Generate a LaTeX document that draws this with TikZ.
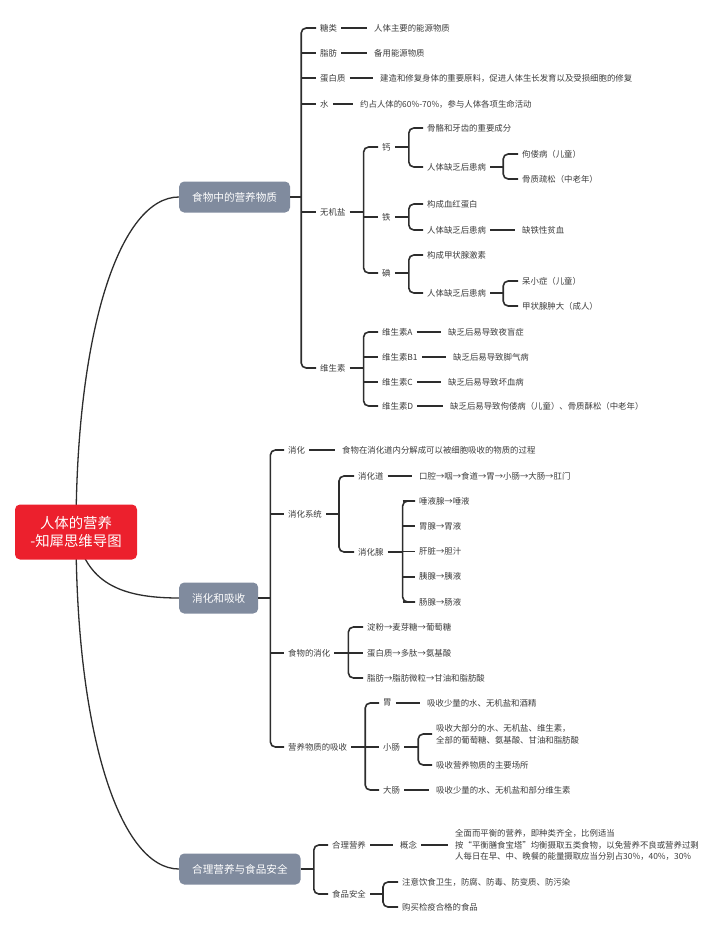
\documentclass[tikz,border=0pt]{standalone}
\usepackage{fontspec}
\newfontfamily\cjk{Noto Sans CJK SC}
\usetikzlibrary{backgrounds}
\definecolor{rootred}{RGB}{236,32,45}
\definecolor{topicgray}{RGB}{128,139,158}
\definecolor{ink}{RGB}{45,45,45}
\definecolor{txt}{RGB}{60,60,60}

\begin{document}
\begin{tikzpicture}[x=1pt,y=-1pt,
 leaf/.style={anchor=west,inner xsep=4pt,inner ysep=1pt,text=txt,
  font=\cjk\fontsize{8.4}{12}\selectfont},
 topic/.style={anchor=west,rounded corners=5pt,fill=topicgray,text=white,
  inner xsep=13pt,minimum height=31pt,font=\cjk\fontsize{10.6}{13}\selectfont},
 link/.style={draw=ink,line width=1.6pt},
 pair/.style={link,shorten >=3pt},
 spine/.style={link,rounded corners=5pt},
 rootline/.style={draw=ink,line width=1.3pt}]
\useasboundingbox (0,0) rectangle (720,931);

% root and main topics
\node[fill=rootred,rounded corners=5pt,text=white,align=center,
 minimum width=122pt,minimum height=55pt,
 font=\cjk\fontsize{14.4}{18}\selectfont] (root) at (76,532) {人体的营养\\-知犀思维导图};
\node[topic] (food) at (179,197) {食物中的营养物质};
\node[topic] (dig) at (179,598) {消化和吸收};
\node[topic] (safe) at (179,869) {合理营养与食品安全};
\begin{scope}[on background layer]
 \draw[rootline] (root.center) .. controls +(0,-202) and +(-59,0) .. (food.west);
 \draw[rootline] (root.center) .. controls +(10,50) and +(-60,0) .. (dig.west);
 \draw[rootline] (root.center) .. controls +(0,202) and +(-59,0) .. (safe.west);
\end{scope}

% food: nutrients
\path (food.east) ++(11,0) coordinate (fs);
\node[leaf] (sugar) at (316,28) {糖类};
\node[leaf] (fat) at (316,53) {脂肪};
\node[leaf] (prot) at (316,78) {蛋白质};
\node[leaf] (water) at (316,104) {水};
\node[leaf] (salt) at (316,212) {无机盐};
\node[leaf] (vit) at (316,368) {维生素};
\draw[link] (food.east) -- (fs);
\draw[spine] (sugar.west) -| (fs) |- (vit.west);
\foreach \n in {fat,prot,water,salt} \draw[link] (fs |- \n.west) -- (\n.west);

\node[leaf] (sugar1) at (370,28) {人体主要的能源物质};
\node[leaf] (fat1) at (370,53) {备用能源物质};
\node[leaf] (prot1) at (376,78) {建造和修复身体的重要原料，促进人体生长发育以及受损细胞的修复};
\node[leaf] (water1) at (356,104) {约占人体的60\%-70\%，参与人体各项生命活动};
\foreach \n in {sugar,fat,prot,water} \draw[pair] (\n) -- (\n1);

% minerals
\path (salt.east) ++(14,0) coordinate (ss);
\node[leaf] (ca) at (378,147) {钙};
\node[leaf] (fe) at (378,217) {铁};
\node[leaf] (io) at (378,273) {碘};
\draw[link] (salt.east) -- (ss);
\draw[spine] (ca.west) -| (ss) |- (io.west);
\draw[link] (ss |- fe.west) -- (fe.west);

\path (ca.east) ++(14,0) coordinate (cas);
\node[leaf] (ca1) at (423,128) {骨骼和牙齿的重要成分};
\node[leaf] (ca2) at (423,167) {人体缺乏后患病};
\draw[link] (ca.east) -- (cas);
\draw[spine] (ca1.west) -| (cas) |- (ca2.west);
\path (ca2.east) ++(13,0) coordinate (ca2s);
\node[leaf] (ca21) at (518,154) {佝偻病（儿童）};
\node[leaf] (ca22) at (518,179) {骨质疏松（中老年）};
\draw[link] (ca2.east) -- (ca2s);
\draw[spine] (ca21.west) -| (ca2s) |- (ca22.west);

\path (fe.east) ++(14,0) coordinate (fes);
\node[leaf] (fe1) at (423,204) {构成血红蛋白};
\node[leaf] (fe2) at (423,230) {人体缺乏后患病};
\node[leaf] (fe21) at (518,230) {缺铁性贫血};
\draw[link] (fe.east) -- (fes);
\draw[spine] (fe1.west) -| (fes) |- (fe2.west);
\draw[pair] (fe2) -- (fe21);

\path (io.east) ++(14,0) coordinate (ios);
\node[leaf] (io1) at (423,255) {构成甲状腺激素};
\node[leaf] (io2) at (423,293) {人体缺乏后患病};
\draw[link] (io.east) -- (ios);
\draw[spine] (io1.west) -| (ios) |- (io2.west);
\path (io2.east) ++(13,0) coordinate (io2s);
\node[leaf] (io21) at (518,281) {呆小症（儿童）};
\node[leaf] (io22) at (518,306) {甲状腺肿大（成人）};
\draw[link] (io2.east) -- (io2s);
\draw[spine] (io21.west) -| (io2s) |- (io22.west);

% vitamins
\path (vit.east) ++(14,0) coordinate (vs);
\node[leaf] (va) at (378,332) {维生素A};
\node[leaf] (vb) at (378,357) {维生素B1};
\node[leaf] (vc) at (378,382) {维生素C};
\node[leaf] (vd) at (378,406) {维生素D};
\draw[link] (vit.east) -- (vs);
\draw[spine] (va.west) -| (vs) |- (vd.west);
\foreach \n in {vb,vc} \draw[link] (vs |- \n.west) -- (\n.west);
\node[leaf] (va1) at (444,332) {缺乏后易导致夜盲症};
\node[leaf] (vb1) at (449,357) {缺乏后易导致脚气病};
\node[leaf] (vc1) at (444,382) {缺乏后易导致坏血病};
\node[leaf] (vd1) at (446,406) {缺乏后易导致佝偻病（儿童）、骨质酥松（中老年）};
\foreach \n in {va,vb,vc,vd} \draw[pair] (\n) -- (\n1);

% digestion and absorption
\path (dig.east) ++(12,0) coordinate (ds);
\node[leaf] (dg) at (284,450) {消化};
\node[leaf] (sys) at (284,514) {消化系统};
\node[leaf] (fd) at (284,653) {食物的消化};
\node[leaf] (ab) at (284,747) {营养物质的吸收};
\draw[link] (dig.east) -- (ds);
\draw[spine] (dg.west) -| (ds) |- (ab.west);
\foreach \n in {sys,fd} \draw[link] (ds |- \n.west) -- (\n.west);
\node[leaf] (dg1) at (338,450) {食物在消化道内分解成可以被细胞吸收的物质的过程};
\draw[pair] (dg) -- (dg1);

\path (sys.east) ++(13,0) coordinate (syss);
\node[leaf] (tract) at (354,476) {消化道};
\node[leaf] (gland) at (354,552) {消化腺};
\draw[link] (sys.east) -- (syss);
\draw[spine] (tract.west) -| (syss) |- (gland.west);
\node[leaf] (tract1) at (415,476) {口腔→咽→食道→胃→小肠→大肠→肛门};
\draw[pair] (tract) -- (tract1);

\path (gland.east) ++(15,0) coordinate (gs);
\foreach \t [count=\i] in {唾液腺→唾液,胃腺→胃液,肝脏→胆汁,胰腺→胰液,肠腺→肠液}
 {\node[leaf] (gl\i) at (415,{501+25.25*(\i-1)}) {\t};
  \draw[link] (gs |- gl\i.west) -- (gl\i.west);}
\draw[link] (gland.east) -- (gs);
\draw[spine] (gl1.west) -| (gs) |- (gl5.west);

\path (fd.east) ++(14,0) coordinate (fds);
\node[leaf] (fd1) at (363,627) {淀粉→麦芽糖→葡萄糖};
\node[leaf] (fd2) at (363,653) {蛋白质→多肽→氨基酸};
\node[leaf] (fd3) at (363,678) {脂肪→脂肪微粒→甘油和脂肪酸};
\draw[link] (fd.east) -- (fd2.west);
\draw[spine] (fd1.west) -| (fds) |- (fd3.west);

\path (ab.east) ++(14,0) coordinate (abs);
\node[leaf] (st) at (379,703) {胃};
\node[leaf] (si) at (379,747) {小肠};
\node[leaf] (li) at (379,790) {大肠};
\draw[link] (ab.east) -- (si.west);
\draw[spine] (st.west) -| (abs) |- (li.west);
\node[leaf] (st1) at (423,703) {吸收少量的水、无机盐和酒精};
\node[leaf] (li1) at (432,790) {吸收少量的水、无机盐和部分维生素};
\draw[pair] (st) -- (st1);
\draw[pair] (li) -- (li1);
\path (si.east) ++(14,0) coordinate (sis);
\node[leaf,align=left] (si1) at (432,734) {吸收大部分的水、无机盐、维生素，\\全部的葡萄糖、氨基酸、甘油和脂肪酸};
\node[leaf] (si2) at (432,765) {吸收营养物质的主要场所};
\draw[link] (si.east) -- (sis);
\draw[spine] (si1.west) -| (sis) |- (si2.west);

% balanced diet and food safety
\path (safe.east) ++(13,0) coordinate (sfs);
\node[leaf] (plan) at (328,845) {合理营养};
\node[leaf] (fsafe) at (328,894) {食品安全};
\draw[link] (safe.east) -- (sfs);
\draw[spine] (plan.west) -| (sfs) |- (fsafe.west);
\node[leaf] (idea) at (396,845) {概念};
\node[leaf,align=left,font=\cjk\fontsize{8.4}{11.7}\selectfont] (idea1) at (451,845)
 {全面而平衡的营养，即种类齐全，比例适当\\按“平衡膳食宝塔”均衡摄取五类食物，以免营养不良或营养过剩\\人每日在早、中、晚餐的能量摄取应当分别占30\%，40\%，30\%};
\draw[pair] (plan) -- (idea);
\draw[pair] (idea) -- (idea1);

\path (fsafe.east) ++(13,0) coordinate (fss);
\node[leaf] (fsafe1) at (398,882) {注意饮食卫生，防腐、防毒、防变质、防污染};
\node[leaf] (fsafe2) at (398,907) {购买检疫合格的食品};
\draw[link] (fsafe.east) -- (fss);
\draw[spine] (fsafe1.west) -| (fss) |- (fsafe2.west);

\end{tikzpicture}
\end{document}
